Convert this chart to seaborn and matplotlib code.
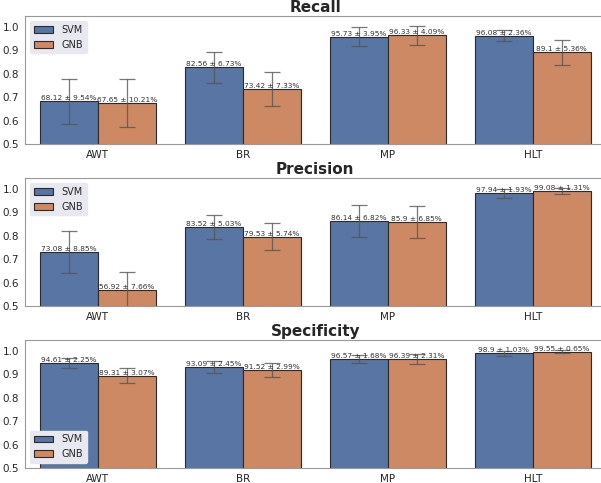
import numpy as np
import pandas as pd
import matplotlib
matplotlib.use('Agg')
import matplotlib.pyplot as plt
import seaborn as sns

sns.set_style('white')
plt.rcParams['font.family'] = ['DejaVu Sans']

categories = ['AWT', 'BR', 'MP', 'HLT']
models = ['SVM', 'GNB']

recall_svm = [68.12, 82.56, 95.73, 96.08]
recall_svm_std = [9.54, 6.73, 3.95, 2.36]
recall_gnb = [67.65, 73.42, 96.33, 89.1]
recall_gnb_std = [10.21, 7.33, 4.09, 5.36]

precision_svm = [73.08, 83.52, 86.14, 97.94]
precision_svm_std = [8.85, 5.03, 6.82, 1.93]
precision_gnb = [56.92, 79.53, 85.9, 99.08]
precision_gnb_std = [7.66, 5.74, 6.85, 1.31]

spec_svm = [94.61, 93.09, 96.57, 98.9]
spec_svm_std = [2.25, 2.45, 1.68, 1.03]
spec_gnb = [89.31, 91.52, 96.39, 99.55]
spec_gnb_std = [3.07, 2.99, 2.31, 0.65]

panels = [
    ('Recall', recall_svm, recall_svm_std, recall_gnb, recall_gnb_std, 'upper left'),
    ('Precision', precision_svm, precision_svm_std, precision_gnb, precision_gnb_std, 'upper left'),
    ('Specificity', spec_svm, spec_svm_std, spec_gnb, spec_gnb_std, 'lower left'),
]

fig, axes = plt.subplots(3, 1, figsize=(6.01, 4.83), dpi=100)
# original figure is cropped on the right, so the axes run past the edge
fig.subplots_adjust(left=0.042, right=1.007, top=0.967, bottom=0.031, hspace=0.265)

for ax, (title, svm, svm_std, gnb, gnb_std, loc) in zip(axes, panels):
    df = pd.DataFrame({
        'category': categories * 2,
        'model': ['SVM'] * 4 + ['GNB'] * 4,
        'mean': np.array(svm + gnb) / 100,
        'std': np.array(svm_std + gnb_std) / 100,
    })
    sns.barplot(data=df, x='category', y='mean', hue='model', hue_order=models,
                palette='deep', edgecolor='#2b2b2b', linewidth=0.8, ax=ax)

    # error bars and labels on top of each bar
    for cont, model in zip(ax.containers, models):
        sub = df[df['model'] == model]
        xs = [p.get_x() + p.get_width() / 2 for p in cont.patches]
        ax.errorbar(xs, sub['mean'], yerr=sub['std'], fmt='none',
                    ecolor='#555555', elinewidth=0.9, capsize=5.5, capthick=0.9,
                    alpha=0.8, zorder=3)
        for x, m, s in zip(xs, sub['mean'], sub['std']):
            ax.text(x, m, f'{round(m * 100, 2):g} ± {s * 100:.2f}%', ha='center',
                    va='bottom', fontsize=5.3, color='#333333', zorder=4)

    ax.set_xlim(-0.5, 3.5)
    ax.set_ylim(0.5, 1.045)
    ax.set_yticks([0.5, 0.6, 0.7, 0.8, 0.9, 1.0])
    ax.set_title(title, fontsize=11, fontweight='bold', pad=3)
    ax.set_xlabel('')
    ax.set_ylabel('')
    ax.tick_params(axis='both', labelsize=7.5, pad=1)
    for sp in ax.spines.values():
        sp.set_color('#999999')
    leg = ax.legend(loc=loc, fontsize=7, frameon=True, facecolor='#e8e8f0',
                    edgecolor='#e8e8f0', framealpha=1)

plt.savefig('out.png', dpi=100)
